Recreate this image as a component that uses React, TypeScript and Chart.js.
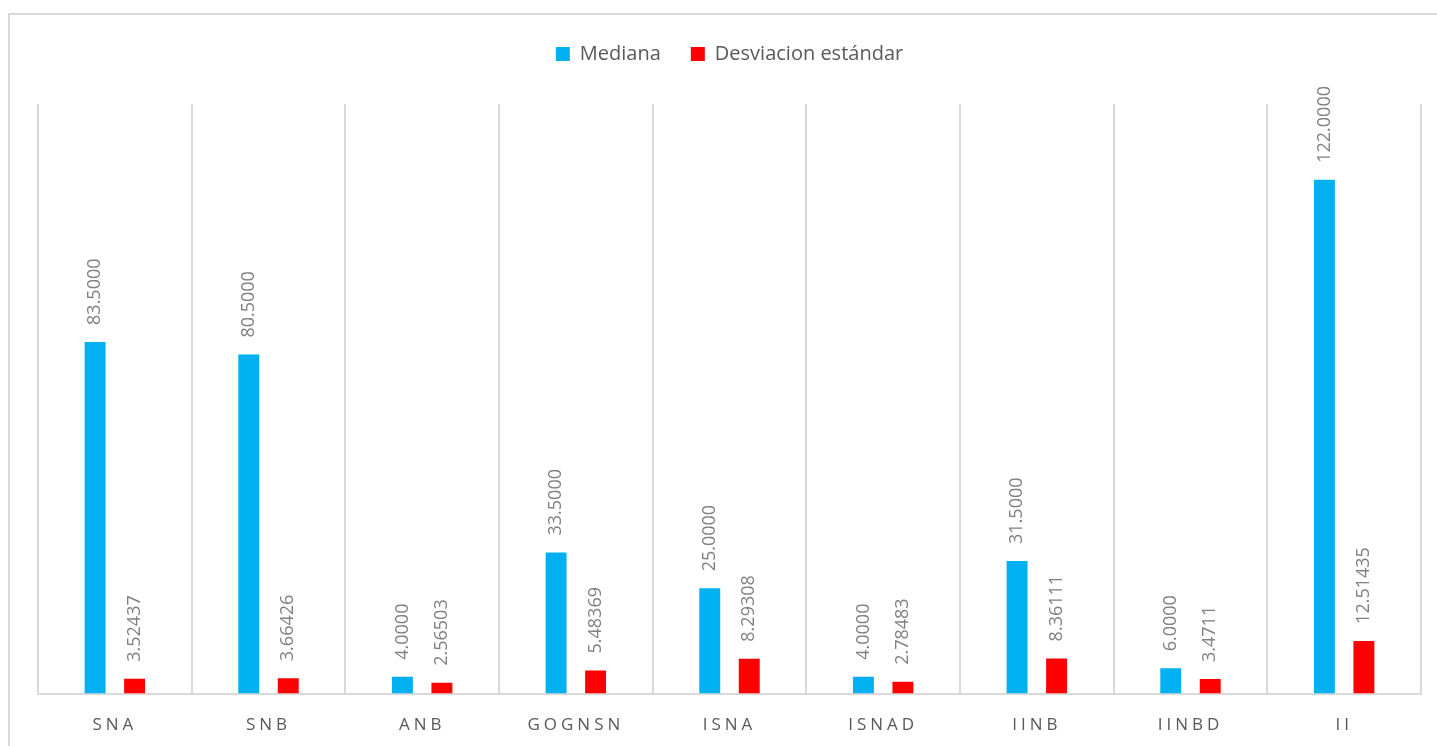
import React, { useEffect, useRef } from "react";
import { Chart, registerables } from "chart.js";

Chart.register(...registerables);

const categories = ["SNA", "SNB", "ANB", "GOGNSN", "ISNA", "ISNAD", "IINB", "IINBD", "II"];
const medianaValues = [83.5, 80.5, 4, 33.5, 25, 4, 31.5, 6, 122];
const medianaLabels = ["83.5000", "80.5000", "4.0000", "33.5000", "25.0000", "4.0000", "31.5000", "6.0000", "122.0000"];
const desviacionValues = [3.52437, 3.66426, 2.56503, 5.48369, 8.29308, 2.78483, 8.36111, 3.4711, 12.51435];
const desviacionLabels = ["3.52437", "3.66426", "2.56503", "5.48369", "8.29308", "2.78483", "8.36111", "3.4711", "12.51435"];
const seriesNames = ["Mediana", "Desviacion estándar"];
const yMin = 0;
const yMax = 140;

const FONT = "'Open Sans', 'Noto Sans', sans-serif";

const valueLabelPlugin = {
  id: "valueLabels",
  afterDatasetsDraw(chart: any) {
    const ctx = chart.ctx;
    const labelSets = [medianaLabels, desviacionLabels];
    chart.data.datasets.forEach((_ds: any, di: number) => {
      const meta = chart.getDatasetMeta(di);
      meta.data.forEach((el: any, i: number) => {
        const text = labelSets[di][i];
        ctx.save();
        ctx.translate(el.x, el.y - 17);
        ctx.rotate(-Math.PI / 2);
        ctx.font = `18px ${FONT}`;
        ctx.fillStyle = "#808080";
        ctx.textAlign = "left";
        ctx.textBaseline = "middle";
        ctx.fillText(text, 0, 0);
        ctx.restore();
      });
    });
  },
};

const layoutPatchPlugin = {
  id: "layoutPatch",
  beforeLayout(chart: any) {
    const lg = chart.legend;
    if (lg && !lg.__patched) {
      const origFit = lg.fit.bind(lg);
      lg.fit = function () {
        origFit();
        this.height += 30;
      };
      lg.__patched = true;
    }
  },
  afterLayout(chart: any) {
    const xs = chart.scales.x;
    if (xs && !xs.__patched) {
      const orig = xs.drawLabels.bind(xs);
      xs.drawLabels = function (area: any) {
        const c = chart.ctx;
        c.save();
        (c as any).letterSpacing = "4px";
        orig(area);
        c.restore();
      };
      xs.__patched = true;
    }
  },
};

export default function App() {
  const canvasRef = useRef<HTMLCanvasElement | null>(null);

  useEffect(() => {
    if (!canvasRef.current) return;
    const chart = new Chart(canvasRef.current, {
      type: "bar",
      data: {
        labels: categories,
        datasets: [
          {
            label: seriesNames[0],
            data: medianaValues,
            backgroundColor: "#00B0F0",
            borderWidth: 0,
            categoryPercentage: 0.514,
            barPercentage: 0.53,
          },
          {
            label: seriesNames[1],
            data: desviacionValues,
            backgroundColor: "#FF0000",
            borderWidth: 0,
            categoryPercentage: 0.514,
            barPercentage: 0.53,
          },
        ],
      },
      options: {
        animation: false,
        responsive: true,
        maintainAspectRatio: false,
        layout: { padding: { top: -1, left: 28, right: 25, bottom: 10 } },
        plugins: {
          legend: {
            display: true,
            position: "top",
            labels: {
              boxWidth: 14,
              boxHeight: 14,
              padding: 30,
              color: "#595959",
              font: { family: FONT, size: 20 },
            },
          },
          tooltip: { enabled: false },
        },
        scales: {
          x: {
            grid: {
              display: true,
              offset: true,
              color: "#d9d9d9",
              lineWidth: 2,
              drawTicks: false,
            },
            border: { display: true, color: "#d9d9d9", width: 2 },
            ticks: {
              color: "#595959",
              padding: 21,
              font: { family: FONT, size: 17 },
              maxRotation: 0,
            },
          },
          y: {
            display: false,
            min: yMin,
            max: yMax,
          },
        },
      },
      plugins: [valueLabelPlugin, layoutPatchPlugin],
    });
    return () => chart.destroy();
  }, []);

  return (
    <div
      style={{
        position: "fixed",
        left: 8,
        top: 13,
        width: 1440,
        height: 770,
        border: "2px solid #d9d9d9",
        boxSizing: "border-box",
        background: "#ffffff",
      }}
    >
      <div style={{ position: "absolute", left: 0, top: 0, width: 1436, height: 751 }}>
        <canvas ref={canvasRef} />
      </div>
    </div>
  );
}
